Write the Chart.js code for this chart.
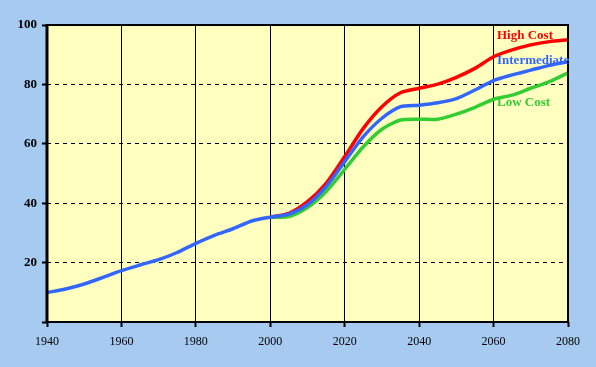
<!DOCTYPE html>
<html>
<head>
<meta charset="utf-8">
<script src="https://cdn.jsdelivr.net/npm/chart.js@4/dist/chart.umd.min.js"></script>
<style>
    body { margin: 0; background: #A6CAF0; }
    #chart { display: block; }
</style>
</head>
<body>
<canvas id="chart" width="596" height="367"></canvas>
<script>
// Years along the x axis (5-year steps)
const years = [1940, 1945, 1950, 1955, 1960, 1965, 1970, 1975, 1980, 1985, 1990, 1995,
               2000, 2005, 2010, 2015, 2020, 2025, 2030, 2035, 2040, 2045, 2050, 2055,
               2060, 2065, 2070, 2075, 2080];
const projYears = years.slice(12);

// Historical + intermediate projection
const intermediate = [9.9, 11.1, 12.8, 15.0, 17.3, 19.2, 21.0, 23.4, 26.5, 29.2, 31.4, 34.0,
                      35.3, 36.3, 39.5, 45.6, 54.0, 62.4, 68.6, 72.5, 73.0, 73.8, 75.2, 78.1,
                      81.3, 83.2, 84.8, 86.4, 87.6];
const highCost = [35.3, 36.6, 40.5, 46.7, 55.7, 65.2, 72.5, 77.2, 78.7, 80.1, 82.4, 85.4,
                  89.3, 91.6, 93.3, 94.4, 95.0];
const lowCost = [35.3, 35.5, 38.5, 43.9, 51.4, 59.0, 64.9, 68.0, 68.3, 68.3, 70.0, 72.3,
                 75.0, 76.4, 78.7, 80.9, 83.9];

const yTicks = [0, 20, 40, 60, 80, 100];

const seriesLabels = [
    { text: 'High Cost', color: '#FF0000', x: 497, y: 36 },
    { text: 'Intermediate', color: '#3366FF', x: 497, y: 61 },
    { text: 'Low Cost', color: '#33CC33', x: 497, y: 103 }
];

function points(xs, ys) {
    return xs.map((x, i) => ({ x: x, y: ys[i] }));
}

// plot background, frame and series labels
const decor = {
    id: 'decor',
    beforeDraw(chart) {
        const a = chart.chartArea;
        const ctx = chart.ctx;
        ctx.save();
        ctx.fillStyle = '#FFFFC0';
        ctx.fillRect(a.left, a.top, a.right - a.left, a.bottom - a.top);
        ctx.restore();
    },
    afterDatasetsDraw(chart) {
        const a = chart.chartArea;
        const ctx = chart.ctx;
        ctx.save();
        ctx.strokeStyle = '#000';
        ctx.lineWidth = 2;
        ctx.strokeRect(a.left, a.top, a.right - a.left, a.bottom - a.top);
        ctx.lineWidth = 3;
        ctx.beginPath();
        ctx.moveTo(a.left, a.top - 1);
        ctx.lineTo(a.left, a.bottom + 1);
        ctx.stroke();

        ctx.font = 'bold 13px "Liberation Serif", "Times New Roman", serif';
        ctx.textBaseline = 'middle';
        ctx.textAlign = 'left';
        seriesLabels.forEach(l => {
            ctx.fillStyle = l.color;
            ctx.fillText(l.text, l.x, l.y);
        });
        ctx.restore();
    }
};

const ctx = document.getElementById('chart').getContext('2d');

new Chart(ctx, {
    type: 'line',
    data: {
        datasets: [
            {
                label: 'Intermediate',
                data: points(years, intermediate),
                borderColor: '#3366FF',
                borderWidth: 3.5,
                pointRadius: 0,
                tension: 0.25,
                fill: false
            },
            {
                label: 'High Cost',
                data: points(projYears, highCost),
                borderColor: '#FF0000',
                borderWidth: 3.5,
                pointRadius: 0,
                tension: 0.25,
                fill: false
            },
            {
                label: 'Low Cost',
                data: points(projYears, lowCost),
                borderColor: '#33CC33',
                borderWidth: 3.5,
                pointRadius: 0,
                tension: 0.25,
                fill: false
            }
        ]
    },
    options: {
        responsive: false,
        animation: false,
        devicePixelRatio: 1,
        layout: { padding: { top: 25, right: 28, left: 0, bottom: 0 } },
        plugins: {
            legend: { display: false },
            tooltip: { enabled: false }
        },
        scales: {
            x: {
                type: 'linear',
                min: 1940,
                max: 2080,
                afterFit: (s) => { s.height = 45; },
                ticks: {
                    stepSize: 20,
                    padding: 8,
                    color: '#000',
                    font: { family: '"Liberation Serif", "Times New Roman", serif', size: 12 },
                    callback: (v) => String(v)
                },
                grid: {
                    color: '#000',
                    lineWidth: 1,
                    drawTicks: true,
                    tickLength: 5,
                    tickColor: '#000',
                    tickWidth: 2
                },
                border: { display: false }
            },
            y: {
                min: 0,
                max: 100,
                afterFit: (s) => { s.width = 47; },
                afterBuildTicks: (s) => { s.ticks = yTicks.map(v => ({ value: v })); },
                ticks: {
                    padding: 5,
                    color: '#000',
                    font: { family: '"Liberation Serif", "Times New Roman", serif', size: 13, weight: 'bold' },
                    callback: (v) => v === 0 ? '' : String(v)
                },
                grid: {
                    color: '#000',
                    lineWidth: 1,
                    drawTicks: true,
                    tickLength: 5,
                    tickColor: '#000',
                    tickWidth: 2,
                    tickBorderDash: []
                },
                border: { display: false, dash: [4, 4] }
            }
        }
    },
    plugins: [decor]
});
</script>
</body>
</html>
